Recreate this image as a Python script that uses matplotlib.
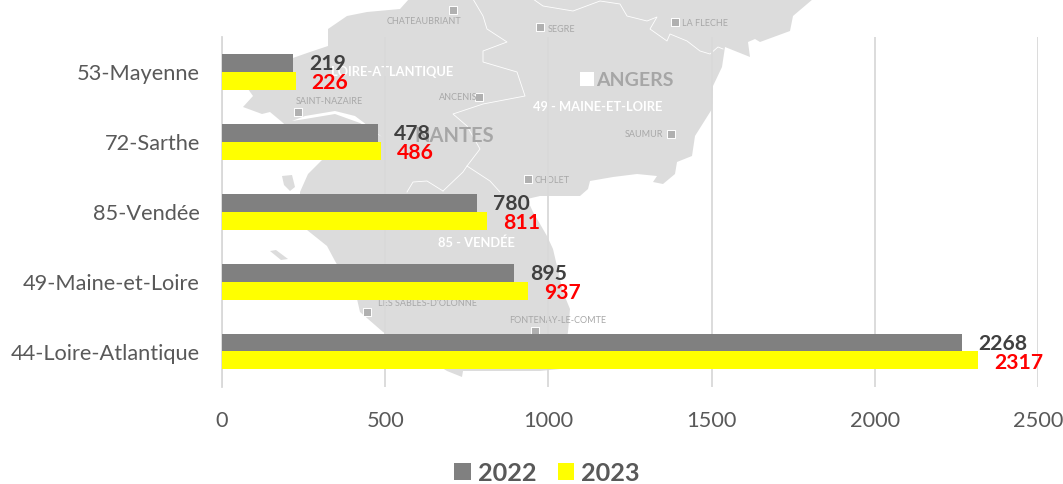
import matplotlib
matplotlib.use('Agg')
import matplotlib.pyplot as plt
import numpy as np

plt.rcParams['font.family'] = ['Lato', 'DejaVu Sans']

# donnees du graphique
departements = ['53-Mayenne', '72-Sarthe', '85-Vendée', '49-Maine-et-Loire', '44-Loire-Atlantique']
valeurs_2022 = [219, 478, 780, 895, 2268]
valeurs_2023 = [226, 486, 811, 937, 2317]
ticks_x = [0, 500, 1000, 1500, 2000, 2500]

# carte de fond (decor, en pixels de l'image)
contour_carte = [(409, 0), (400, 10), (367, 13), (347, 17), (328, 30), (328, 47), (310, 53), (290, 60),
                 (248, 90), (253, 97), (243, 108), (262, 115), (270, 113), (282, 123),
                 (322, 161), (308, 175), (300, 193), (300, 215), (307, 231), (327, 247), (335, 262),
                 (357, 300), (360, 313), (383, 333), (420, 355), (447, 372), (462, 378), (463, 372),
                 (540, 372), (560, 370), (568, 333), (570, 310), (563, 293), (553, 250), (547, 237),
                 (533, 213), (527, 200), (540, 197), (580, 197), (588, 190), (590, 182), (613, 178),
                 (637, 175), (657, 177), (653, 183), (663, 185), (675, 175), (677, 163), (692, 157),
                 (695, 137), (712, 110), (713, 87), (722, 68), (725, 48), (750, 58), (748, 43),
                 (755, 40), (760, 43), (790, 32), (793, 17), (813, 0)]
estuaire = [(292, 122), (305, 117), (335, 112), (355, 117), (363, 123), (382, 138), (360, 124), (335, 115), (305, 120)]
noirmoutier = [(282, 177), (292, 176), (295, 188), (290, 192), (284, 186)]
ile_yeu = [(270, 252), (276, 251), (288, 260), (281, 261)]
frontieres = [
    [(473, 0), (483, 17), (487, 30), (507, 43), (483, 52), (483, 63), (517, 73), (525, 97), (483, 105),
     (453, 115), (467, 127), (480, 150), (467, 167), (490, 182), (500, 193)],
    [(467, 167), (463, 173), (443, 192)],
    [(443, 192), (427, 182), (413, 183), (407, 193)],
    [(533, 0), (543, 7), (573, 12), (600, 2), (620, 5), (627, 17), (647, 22), (657, 18), (650, 30),
     (667, 42), (670, 35), (687, 42), (700, 52), (710, 55), (718, 48), (723, 50)],
]
villes = [('CHATEAUBRIANT', 424, 22, 453, 11), ('SEGRE', 562, 29, 540, 28), ('LA FLECHE', 705, 24, 675, 23),
          ('SAINT-NAZAIRE', 329, 102, 298, 113), ('ANCENIS', 458, 97, 479, 98),
          ('SAUMUR', 644, 135, 671, 135), ('CHOLET', 552, 181, 528, 180),
          ('LES SABLES-D\'OLONNE', 427, 304, 367, 313), ('FONTENAY-LE-COMTE', 558, 321, 535, 332)]

largeur, hauteur = 1063, 485
fig = plt.figure(figsize=(largeur / 100, hauteur / 100), dpi=100)

carte = fig.add_axes([0, 0, 1, 1], zorder=0)
carte.set_xlim(0, largeur)
carte.set_ylim(hauteur, 0)
carte.axis('off')
carte.fill(*zip(*contour_carte), color='#dcdcdc', lw=0)
carte.fill(*zip(*estuaire), color='white', lw=0)
for forme in [noirmoutier, ile_yeu]:
    carte.fill(*zip(*forme), color='#dcdcdc', lw=0)
for ligne in frontieres:
    carte.plot(*zip(*ligne), color='white', lw=0.6)
for nom, tx, ty, cx, cy in villes:
    carte.text(tx, ty, nom, color='#a8a8a8', fontsize=6.5, ha='center', va='center')
    carte.scatter([cx], [cy], marker='s', s=36, color='#b0b0b0', edgecolors='white', linewidths=0.7)
carte.text(392, 72, 'LOIRE-ATLANTIQUE', color='white', fontsize=9.3, fontweight='bold', ha='center', va='center')
carte.text(598, 107, '49 - MAINE-ET-LOIRE', color='white', fontsize=9.3, fontweight='bold', ha='center', va='center')
carte.text(476, 243, '85 - VENDÉE', color='white', fontsize=9.3, fontweight='bold', ha='center', va='center')
carte.text(454, 136, 'NANTES', color='#a6a6a6', fontsize=14.5, fontweight='bold', ha='center', va='center')
carte.text(635, 80, 'ANGERS', color='#a6a6a6', fontsize=14, fontweight='bold', ha='center', va='center')
carte.scatter([587], [80], marker='s', s=95, color='white', linewidths=0)

# graphique
ax = fig.add_axes([222 / largeur, 1 - 387.5 / hauteur, 816 / largeur, 350 / hauteur], zorder=1)
ax.patch.set_alpha(0)
y = np.arange(len(departements))
h = 18 / 70
b22 = ax.barh(y - h / 2, valeurs_2022, height=h, color='#808080', label='2022', zorder=3)
b23 = ax.barh(y + h / 2, valeurs_2023, height=h, color='#ffff00', label='2023', zorder=3)
ax.set_xlim(0, 2500)
ax.set_ylim(len(departements) - 0.5, -0.5)
ax.set_yticks(y, departements)
ax.set_xticks(ticks_x)
ax.tick_params(axis='both', length=0, labelsize=15.7, labelcolor='#595959')
ax.tick_params(axis='x', pad=17)
ax.tick_params(axis='y', pad=16)
ax.grid(axis='x', color='#d9d9d9', lw=1.3, zorder=1)
for cote in ['top', 'right', 'bottom']:
    ax.spines[cote].set_visible(False)
ax.spines['left'].set_color('#d9d9d9')
ax.spines['left'].set_linewidth(1.3)

for i in y:
    ax.annotate(str(valeurs_2022[i]), (valeurs_2022[i], i - h / 2), xytext=(11.5, -0.7), textcoords='offset points',
                color='#404040', fontsize=15.2, fontweight='bold', va='center', zorder=5)
    ax.annotate(str(valeurs_2023[i]), (valeurs_2023[i], i + h / 2), xytext=(11.5, -1), textcoords='offset points',
                color='#ff0000', fontsize=15.2, fontweight='bold', va='center', zorder=5)

leg = fig.legend(handles=[b22, b23], loc='center', bbox_to_anchor=(547 / largeur, 1 - 474 / hauteur), ncol=2,
                 frameon=False, handlelength=0.65, handleheight=0.65, handletextpad=0.28, columnspacing=0.85,
                 borderpad=0, prop={'size': 18.2, 'weight': 'bold'}, labelcolor='#595959')

fig.savefig('out.png', dpi=100)
